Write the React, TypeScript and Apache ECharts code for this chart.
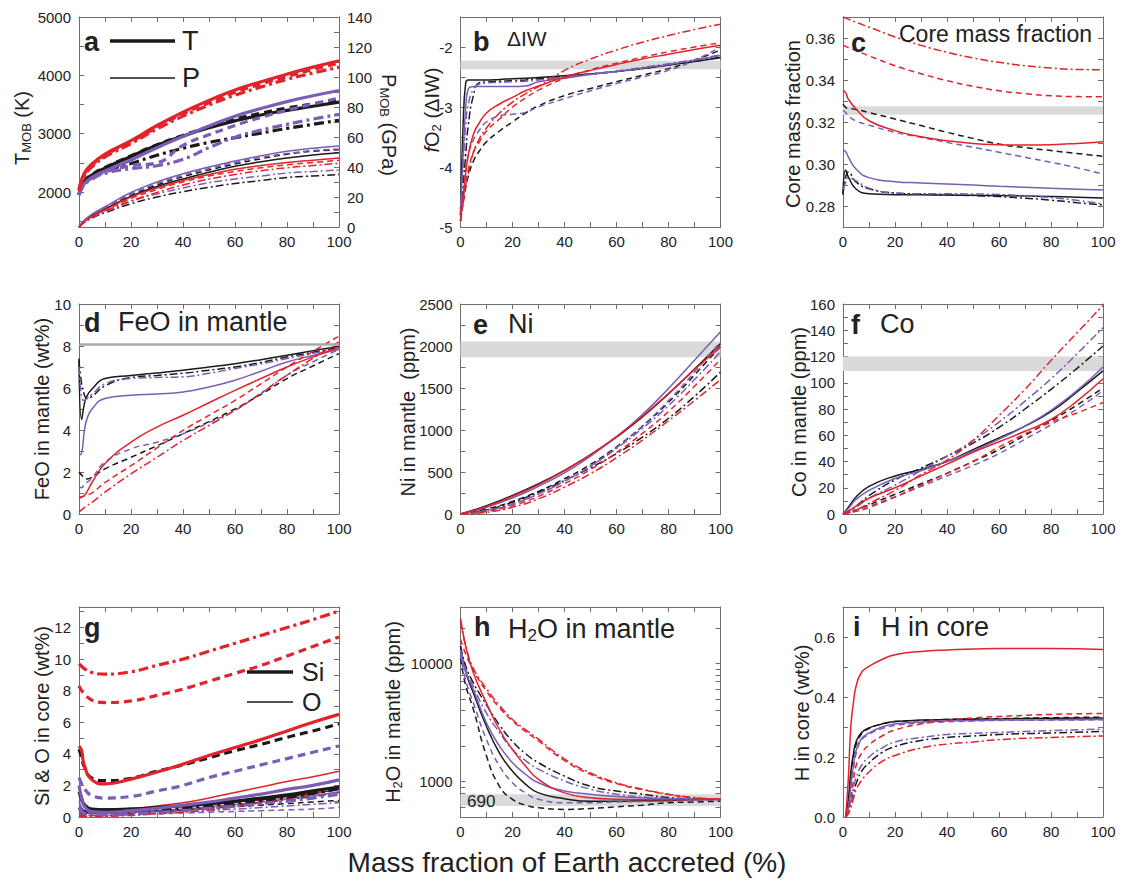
import React, { useEffect, useRef } from 'react';
import * as echarts from 'echarts';

const FONT = '"Liberation Sans", Arial, Helvetica, sans-serif';
const RED = '#e2232b';
const BLACK = '#1a1a1a';
const PURPLE = '#7b5db6';
const AXIS = '#6e6e6e';
const TXT = '#222222';
const BAND = '#dadada';

const RUNS = [
  { key: 'kS', color: BLACK, dash: 'solid' },
  { key: 'kD', color: BLACK, dash: 'dash' },
  { key: 'kDD', color: BLACK, dash: 'dashdot' },
  { key: 'pS', color: PURPLE, dash: 'solid' },
  { key: 'pD', color: PURPLE, dash: 'dash' },
  { key: 'pDD', color: PURPLE, dash: 'dashdot' },
  { key: 'rS', color: RED, dash: 'solid' },
  { key: 'rD', color: RED, dash: 'dash' },
  { key: 'rDD', color: RED, dash: 'dashdot' },
];

// ---------- panel a ----------
const X_A = [0, 2, 5, 10, 20, 30, 40, 50, 60, 70, 80, 90, 100];
const A_T: Record<string, number[]> = {
  kS: [1960, 2170, 2290, 2410, 2610, 2800, 2960, 3100, 3220, 3320, 3400, 3470, 3540],
  kD: [1960, 2180, 2300, 2420, 2620, 2810, 2970, 3120, 3250, 3350, 3440, 3510, 3580],
  kDD: [1950, 2150, 2270, 2370, 2490, 2630, 2750, 2850, 2930, 3010, 3090, 3160, 3230],
  pS: [1950, 2140, 2250, 2360, 2550, 2760, 2950, 3130, 3300, 3430, 3550, 3650, 3740],
  pD: [1950, 2130, 2240, 2340, 2450, 2500, 2800, 2980, 3140, 3280, 3400, 3510, 3610],
  pDD: [1950, 2120, 2220, 2320, 2400, 2450, 2560, 2760, 2940, 3060, 3160, 3250, 3330],
  rS: [2050, 2320, 2480, 2650, 2880, 3140, 3370, 3570, 3750, 3890, 4020, 4140, 4250],
  rD: [2040, 2300, 2460, 2630, 2860, 3110, 3340, 3530, 3710, 3850, 3980, 4100, 4210],
  rDD: [2020, 2270, 2430, 2600, 2830, 3080, 3300, 3490, 3660, 3800, 3930, 4040, 4140],
};
const A_P: Record<string, number[]> = {
  kS: [0, 4, 7.5, 12, 20.5, 27, 32, 36.5, 40.5, 43.5, 46, 48, 49.5],
  kD: [0, 4, 7.5, 12, 21, 28, 33.5, 38, 42, 45.5, 48.5, 50.5, 51.5],
  kDD: [0, 3, 6, 9.5, 15.5, 20, 23.5, 26.5, 29, 31, 33, 34, 35],
  pS: [0, 4.5, 8.5, 13.5, 23, 30, 35.5, 40, 44, 47.5, 50.5, 52.5, 54],
  pD: [0, 4, 8, 13, 22, 29, 34.5, 39, 43, 46.5, 49, 51, 52],
  pDD: [0, 3, 6.5, 10, 17, 22, 26, 29.5, 32, 34, 36, 37, 38],
  rS: [0, 3.5, 7, 11.5, 20, 26, 31, 35, 38.5, 41, 43, 44.5, 46],
  rD: [0, 3.5, 7, 11, 19, 25, 30, 34, 37, 39.5, 41.5, 43, 44.5],
  rDD: [0, 3, 6.5, 10.5, 17.5, 23, 28, 32, 35, 37.5, 39.5, 41, 42.5],
};

// ---------- panel b ----------
const X_B = [0, 1, 2, 3, 5, 7, 10, 15, 20, 25, 30, 40, 50, 60, 70, 80, 90, 100];
const B_FO2: Record<string, number[]> = {
  kS: [-4.8, -3.3, -2.6, -2.55, -2.55, -2.55, -2.55, -2.54, -2.53, -2.52, -2.51, -2.48, -2.45, -2.41, -2.36, -2.3, -2.24, -2.18],
  kD: [-4.9, -4.6, -4.35, -4.15, -3.9, -3.75, -3.58, -3.4, -3.25, -3.1, -2.98, -2.81, -2.69, -2.58, -2.47, -2.36, -2.22, -2.05],
  kDD: [-4.8, -4.3, -3.8, -3.3, -2.8, -2.6, -2.58, -2.57, -2.56, -2.55, -2.53, -2.49, -2.45, -2.41, -2.36, -2.3, -2.24, -2.17],
  pS: [-4.7, -3.8, -3.0, -2.7, -2.66, -2.66, -2.66, -2.66, -2.66, -2.65, -2.58, -2.52, -2.46, -2.41, -2.35, -2.29, -2.22, -2.14],
  pD: [-4.9, -4.5, -4.1, -3.8, -3.55, -3.4, -3.25, -3.15, -3.12, -3.09, -3.0, -2.86, -2.73, -2.61, -2.5, -2.39, -2.22, -2.0],
  pDD: [-4.8, -4.0, -3.3, -2.95, -2.7, -2.62, -2.6, -2.59, -2.58, -2.57, -2.55, -2.5, -2.45, -2.4, -2.34, -2.28, -2.21, -2.13],
  rS: [-4.8, -4.5, -4.1, -3.8, -3.45, -3.28, -3.1, -2.95, -2.84, -2.73, -2.65, -2.5, -2.39, -2.29, -2.2, -2.12, -2.04, -1.97],
  rD: [-4.9, -4.6, -4.3, -4.05, -3.75, -3.6, -3.4, -3.2, -3.0, -2.85, -2.72, -2.52, -2.38, -2.27, -2.17, -2.08, -2.0, -1.93],
  rDD: [-4.9, -4.6, -4.3, -4.1, -3.75, -3.55, -3.35, -3.1, -2.92, -2.78, -2.66, -2.39, -2.2, -2.05, -1.92, -1.81, -1.71, -1.62],
};
const B_BAND = [-2.37, -2.23];

// ---------- panel c ----------
const X_C = [0, 1, 2, 5, 10, 20, 30, 40, 50, 60, 70, 80, 90, 100];
const C_CMF: Record<string, number[]> = {
  kS: [0.2855, 0.2972, 0.294, 0.2881, 0.2858, 0.2854, 0.2853, 0.2852, 0.2851, 0.285, 0.2848, 0.2845, 0.2842, 0.2838],
  kD: [0.3285, 0.327, 0.3265, 0.326, 0.3245, 0.3214, 0.3183, 0.3151, 0.3122, 0.3095, 0.3078, 0.3064, 0.305, 0.3037],
  kDD: [0.2855, 0.2935, 0.2962, 0.2915, 0.2882, 0.2862, 0.2857, 0.2853, 0.285, 0.2845, 0.2837, 0.2828, 0.2816, 0.2805],
  pS: [0.3065, 0.306, 0.3035, 0.2976, 0.2935, 0.2916, 0.291, 0.2905, 0.29, 0.2894, 0.2889, 0.2884, 0.288, 0.2876],
  pD: [0.3255, 0.3245, 0.323, 0.3205, 0.3185, 0.3151, 0.3127, 0.3103, 0.308, 0.3056, 0.3032, 0.3008, 0.2982, 0.2952],
  pDD: [0.288, 0.291, 0.2935, 0.292, 0.2885, 0.2862, 0.2858, 0.2858, 0.2857, 0.2855, 0.2848, 0.284, 0.2827, 0.281],
  rS: [0.335, 0.334, 0.331, 0.3262, 0.3206, 0.3159, 0.313, 0.3111, 0.3098, 0.3092, 0.309, 0.3092, 0.3098, 0.3106],
  rD: [0.3565, 0.356, 0.3555, 0.354, 0.3515, 0.3468, 0.343, 0.3397, 0.337, 0.3349, 0.3335, 0.3325, 0.3321, 0.332],
  rDD: [0.37, 0.3695, 0.369, 0.3675, 0.3652, 0.3605, 0.3565, 0.3532, 0.3505, 0.3484, 0.3468, 0.3457, 0.345, 0.3449],
};
const C_BAND = [0.3235, 0.3275];

// ---------- panel d ----------
const X_D = [0, 1, 2, 3, 5, 10, 20, 30, 40, 50, 60, 70, 80, 90, 100];
const D_FEO: Record<string, number[]> = {
  kS: [7.4, 4.5, 5.2, 5.6, 5.95, 6.45, 6.6, 6.72, 6.85, 7.0, 7.16, 7.35, 7.56, 7.78, 7.99],
  kD: [2.0, 1.85, 1.75, 1.67, 1.75, 2.15, 2.7, 3.25, 3.82, 4.4, 5.0, 5.7, 6.45, 7.05, 7.64],
  kDD: [7.3, 6.2, 5.7, 5.5, 5.6, 6.1, 6.5, 6.6, 6.7, 6.85, 7.0, 7.22, 7.48, 7.7, 7.93],
  pS: [2.8, 2.9, 3.9, 4.5, 5.0, 5.5, 5.65, 5.72, 5.81, 6.05, 6.37, 6.8, 7.24, 7.55, 7.83],
  pD: [1.3, 1.25, 1.4, 1.5, 1.7, 2.47, 3.1, 3.42, 3.82, 4.35, 4.94, 5.75, 6.61, 7.25, 7.83],
  pDD: [7.0, 5.6, 5.4, 5.5, 5.7, 6.2, 6.45, 6.5, 6.53, 6.7, 6.93, 7.15, 7.4, 7.65, 7.88],
  rS: [0.8, 0.82, 0.88, 1.05, 1.5, 2.4, 3.42, 4.14, 4.7, 5.3, 5.89, 6.45, 7.0, 7.48, 7.93],
  rD: [0.75, 0.8, 0.85, 0.9, 1.0, 1.5, 2.3, 3.15, 3.98, 4.7, 5.41, 6.2, 7.0, 7.75, 8.47],
  rDD: [0.1, 0.2, 0.3, 0.4, 0.55, 1.04, 1.91, 2.7, 3.5, 4.22, 4.94, 5.75, 6.61, 7.42, 8.2],
};
const D_LINE = 8.1;

// ---------- panel e ----------
const X_E = [0, 10, 20, 30, 40, 50, 60, 70, 80, 90, 100];
const E_NI: Record<string, number[]> = {
  kS: [0, 100, 220, 360, 520, 705, 915, 1155, 1430, 1725, 2030],
  kD: [0, 60, 150, 270, 420, 590, 800, 1045, 1330, 1655, 2000],
  kDD: [0, 50, 140, 260, 400, 550, 720, 915, 1140, 1400, 1690],
  pS: [0, 80, 190, 330, 490, 690, 920, 1185, 1495, 1830, 2170],
  pD: [0, 40, 120, 240, 390, 570, 790, 1050, 1350, 1690, 2050],
  pDD: [0, 40, 120, 240, 390, 570, 780, 1020, 1290, 1600, 1930],
  rS: [0, 90, 210, 350, 515, 705, 920, 1165, 1435, 1720, 1990],
  rD: [0, 30, 100, 210, 360, 530, 730, 960, 1220, 1520, 1840],
  rDD: [0, 20, 80, 180, 320, 480, 670, 880, 1110, 1350, 1600],
};
const E_BAND = [1865, 2055];

// ---------- panel f ----------
const X_F = [0, 2, 5, 10, 20, 30, 40, 50, 60, 70, 80, 90, 100];
const F_CO: Record<string, number[]> = {
  kS: [0, 5, 13, 21, 29, 34, 40, 49, 58, 67, 78, 93, 109],
  kD: [0, 1, 3, 7, 15, 23, 31, 40, 49, 60, 71, 83, 96],
  kDD: [0, 2, 6, 14, 26, 35, 44, 54, 66, 80, 95, 111, 128],
  pS: [0, 4, 11, 18, 27, 33, 40, 48, 57, 67, 79, 94, 112],
  pD: [0, 1, 3, 6, 13, 21, 29, 37, 46, 57, 68, 80, 94],
  pDD: [0, 2, 5, 12, 22, 33, 44, 56, 70, 86, 103, 122, 142],
  rS: [0, 2, 6, 12, 20, 29, 38, 47, 55, 63, 72, 86, 103],
  rD: [0, 1, 2, 5, 13, 22, 31, 40, 51, 61, 70, 77, 85],
  rDD: [0, 1, 3, 8, 18, 30, 41, 56, 75, 95, 117, 138, 159],
};
const F_BAND = [109, 120];

// ---------- panel g ----------
const X_G = [0, 1, 2, 5, 10, 20, 30, 40, 50, 60, 70, 80, 90, 100];
const G_SI: Record<string, number[]> = {
  kS: [1.6, 1.2, 0.8, 0.5, 0.45, 0.5, 0.6, 0.7, 0.85, 1.0, 1.2, 1.4, 1.65, 1.9],
  kD: [4.3, 3.8, 3.2, 2.45, 2.3, 2.45, 2.9, 3.3, 3.75, 4.2, 4.6, 5.05, 5.45, 5.9],
  kDD: [0.6, 0.45, 0.35, 0.3, 0.3, 0.35, 0.45, 0.55, 0.7, 0.85, 1.05, 1.25, 1.5, 1.8],
  pS: [2.0, 1.2, 0.7, 0.35, 0.3, 0.4, 0.55, 0.75, 0.95, 1.2, 1.45, 1.75, 2.0, 2.35],
  pD: [2.5, 2.1, 1.8, 1.35, 1.2, 1.3, 1.65, 2.0, 2.5, 2.9, 3.3, 3.7, 4.1, 4.5],
  pDD: [0.6, 0.4, 0.25, 0.2, 0.15, 0.2, 0.3, 0.4, 0.55, 0.7, 0.85, 1.0, 1.2, 1.45],
  rS: [4.5, 4.2, 3.3, 2.35, 2.1, 2.4, 2.85, 3.35, 3.9, 4.4, 4.9, 5.45, 6.0, 6.5],
  rD: [8.3, 8.0, 7.8, 7.4, 7.25, 7.35, 7.7, 8.1, 8.6, 9.1, 9.6, 10.2, 10.8, 11.4],
  rDD: [9.7, 9.55, 9.4, 9.15, 9.05, 9.2, 9.6, 10.0, 10.5, 11.0, 11.5, 12.0, 12.5, 13.05],
};
const G_O: Record<string, number[]> = {
  kS: [1.4, 1.0, 0.7, 0.5, 0.5, 0.55, 0.6, 0.7, 0.8, 0.95, 1.1, 1.3, 1.5, 1.75],
  kD: [0.5, 0.4, 0.3, 0.25, 0.25, 0.3, 0.35, 0.45, 0.55, 0.65, 0.75, 0.85, 0.95, 1.05],
  kDD: [0.3, 0.25, 0.2, 0.2, 0.2, 0.25, 0.35, 0.45, 0.6, 0.75, 0.9, 1.1, 1.3, 1.55],
  pS: [1.0, 0.6, 0.4, 0.25, 0.25, 0.3, 0.4, 0.5, 0.65, 0.8, 0.95, 1.15, 1.35, 1.6],
  pD: [0.3, 0.2, 0.15, 0.1, 0.1, 0.15, 0.2, 0.25, 0.3, 0.35, 0.4, 0.45, 0.5, 0.6],
  pDD: [0.2, 0.15, 0.12, 0.1, 0.1, 0.15, 0.2, 0.3, 0.4, 0.5, 0.6, 0.7, 0.8, 0.9],
  rS: [0.2, 0.2, 0.22, 0.25, 0.3, 0.5, 0.7, 0.9, 1.2, 1.55, 1.9, 2.25, 2.55, 2.9],
  rD: [0.1, 0.1, 0.1, 0.1, 0.1, 0.15, 0.25, 0.4, 0.55, 0.75, 1.0, 1.3, 1.6, 1.95],
  rDD: [0.05, 0.05, 0.05, 0.05, 0.05, 0.1, 0.2, 0.3, 0.45, 0.65, 0.9, 1.15, 1.45, 1.8],
};

// ---------- panel h ----------
const X_H = [0, 2, 5, 10, 15, 20, 25, 30, 40, 50, 60, 70, 80, 90, 100];
const H_H2O: Record<string, number[]> = {
  kS: [14000, 8500, 5580, 2920, 1740, 1220, 950, 800, 715, 680, 680, 685, 690, 700, 706],
  kD: [11000, 6500, 4050, 1640, 910, 706, 630, 600, 580, 590, 610, 630, 660, 670, 680],
  kDD: [14000, 9500, 6800, 4450, 3000, 2180, 1720, 1440, 1110, 910, 830, 780, 730, 710, 706],
  pS: [13000, 8500, 5960, 3120, 1990, 1440, 1150, 975, 830, 780, 745, 725, 715, 710, 706],
  pD: [12000, 7200, 4600, 2260, 1350, 975, 800, 706, 660, 660, 670, 675, 680, 690, 700],
  pDD: [13000, 9000, 6300, 3790, 2600, 1860, 1500, 1270, 1010, 860, 780, 740, 715, 705, 700],
  rS: [24000, 14000, 8240, 4600, 2740, 1860, 1350, 1040, 800, 727, 706, 700, 700, 702, 706],
  rD: [16000, 12000, 8700, 5800, 4200, 3250, 2650, 2200, 1500, 1150, 960, 850, 775, 725, 700],
  rDD: [23000, 14000, 9000, 6100, 4400, 3350, 2750, 2280, 1550, 1180, 975, 860, 780, 730, 706],
};
const H_BAND = [620, 780];

// ---------- panel i ----------
const X_I = [1, 2, 3, 4, 5, 7, 10, 15, 20, 30, 40, 50, 60, 80, 100];
const I_H: Record<string, number[]> = {
  kS: [0, 0.05, 0.15, 0.21, 0.25, 0.28, 0.297, 0.31, 0.318, 0.323, 0.325, 0.326, 0.327, 0.329, 0.33],
  kD: [0, 0.05, 0.14, 0.2, 0.24, 0.275, 0.295, 0.31, 0.318, 0.322, 0.325, 0.327, 0.328, 0.331, 0.333],
  kDD: [0, 0.02, 0.05, 0.08, 0.11, 0.15, 0.18, 0.215, 0.235, 0.255, 0.265, 0.27, 0.275, 0.28, 0.285],
  pS: [0, 0.03, 0.1, 0.17, 0.22, 0.26, 0.28, 0.3, 0.31, 0.317, 0.32, 0.322, 0.323, 0.324, 0.325],
  pD: [0, 0.03, 0.1, 0.16, 0.21, 0.255, 0.275, 0.295, 0.305, 0.313, 0.317, 0.32, 0.322, 0.323, 0.324],
  pDD: [0, 0.02, 0.05, 0.1, 0.13, 0.17, 0.2, 0.23, 0.25, 0.265, 0.275, 0.279, 0.282, 0.288, 0.293],
  rS: [0, 0.12, 0.3, 0.38, 0.435, 0.48, 0.502, 0.525, 0.541, 0.552, 0.557, 0.56, 0.562, 0.562, 0.558],
  rD: [0, 0.02, 0.06, 0.12, 0.17, 0.21, 0.24, 0.27, 0.29, 0.31, 0.322, 0.33, 0.335, 0.342, 0.345],
  rDD: [0, 0.01, 0.03, 0.06, 0.09, 0.12, 0.15, 0.185, 0.205, 0.23, 0.243, 0.25, 0.258, 0.265, 0.27],
};

// tick / label values
const A_T_TICKS = [1500, 2000, 2500, 3000, 3500, 4000, 4500, 5000];
const A_T_LABELS = [2000, 3000, 4000, 5000];
const B_TICKS = [-5, -4.5, -4, -3.5, -3, -2.5, -2, -1.5];
const B_LABELS = [-5, -4, -3, -2];
const C_TICKS = [0.27, 0.28, 0.29, 0.3, 0.31, 0.32, 0.33, 0.34, 0.35, 0.36, 0.37];
const C_LABELS = [0.28, 0.3, 0.32, 0.34, 0.36];
const G_TICKS = [0, 1, 2, 3, 4, 5, 6, 7, 8, 9, 10, 11, 12, 13];
const G_LABELS = [0, 2, 4, 6, 8, 10, 12];
const H_TICKS = [500, 600, 700, 800, 900, 1000, 2000, 3000, 4000, 5000, 6000, 7000, 8000, 9000, 10000, 20000, 30000];
const H_LABELS = [1000, 10000];
const I_TICKS = [0, 0.1, 0.2, 0.3, 0.4, 0.5, 0.6, 0.7];
const I_LABELS = [0, 0.2, 0.4, 0.6];

// layout
const COL_LEFT = [79, 460.5, 843];
const ROW_TOP = [17, 304, 607];
const PW = 260;
const PH = 210;

type YSpec = {
  min: number; max: number; interval?: number; log?: boolean;
  ticks?: number[]; labels?: number[]; fmt?: (v: number) => string;
};

const Y_SPECS: YSpec[] = [
  { min: 1400, max: 5000, ticks: A_T_TICKS, labels: A_T_LABELS },
  { min: -5, max: -1.5, ticks: B_TICKS, labels: B_LABELS },
  { min: 0.27, max: 0.37, ticks: C_TICKS, labels: C_LABELS, fmt: (v) => v.toFixed(2) },
  { min: 0, max: 10, interval: 2 },
  { min: 0, max: 2500, interval: 500 },
  { min: 0, max: 160, interval: 20 },
  { min: 0, max: 13.3, ticks: G_TICKS, labels: G_LABELS },
  { min: 500, max: 30000, log: true, ticks: H_TICKS, labels: H_LABELS, fmt: (v) => String(Math.round(v)) },
  { min: 0, max: 0.7, ticks: I_TICKS, labels: I_LABELS, fmt: (v) => v.toFixed(1) },
];

function dashOf(dash: string, thick: boolean): any {
  if (dash === 'dash') return thick ? [8, 5] : [6, 4];
  if (dash === 'dashdot') return thick ? [10, 4, 3, 4] : [8, 3, 2, 3];
  return 'solid';
}

function lineSeries(gi: number, yIdx: number, xs: number[], data: Record<string, number[]>, thick: boolean) {
  return RUNS.map((run) => ({
    type: 'line',
    xAxisIndex: gi * 2,
    yAxisIndex: yIdx,
    data: xs.map((x, i) => [x, data[run.key][i]]),
    symbol: 'none',
    showSymbol: false,
    smooth: 0.5,
    silent: true,
    clip: true,
    z: 3,
    lineStyle: { color: run.color, width: thick ? 3.2 : 1.5, type: dashOf(run.dash, thick) },
  }));
}

function bandSeries(gi: number, lo: number, hi: number) {
  return {
    type: 'line',
    xAxisIndex: gi * 2,
    yAxisIndex: gi * 2,
    data: [],
    silent: true,
    z: 1,
    markArea: { silent: true, itemStyle: { color: BAND }, label: { show: false }, data: [[{ yAxis: lo }, { yAxis: hi }]] },
  };
}

const tickStyle = { show: true, inside: true, length: 5, lineStyle: { color: AXIS, width: 1 } };
const minorStyle = { show: true, splitNumber: 2, length: 5, lineStyle: { color: AXIS, width: 1 } };
const axisLineStyle = { show: true, onZero: false, lineStyle: { color: AXIS, width: 1 } };
const labelBase = { color: TXT, fontSize: 15, fontFamily: FONT };

function buildYAxis(gi: number, spec: YSpec, position: 'left' | 'right', showLabels: boolean) {
  const ax: any = {
    type: spec.log ? 'log' : 'value',
    gridIndex: gi,
    position,
    min: spec.min,
    max: spec.max,
    splitLine: { show: false },
    axisLine: axisLineStyle,
    axisTick: { ...tickStyle },
    axisLabel: {
      ...labelBase,
      show: showLabels,
      margin: 8,
      formatter: spec.fmt || ((v: number) => String(v)),
    },
  };
  if (spec.log) ax.logBase = 10;
  if (spec.interval !== undefined) {
    ax.interval = spec.interval;
    ax.minorTick = minorStyle;
  }
  if (spec.ticks) ax.axisTick.customValues = spec.ticks;
  if (spec.labels) ax.axisLabel.customValues = spec.labels;
  return ax;
}

function buildXAxes(gi: number) {
  const base: any = {
    type: 'value', gridIndex: gi, min: 0, max: 100, interval: 20,
    splitLine: { show: false }, axisLine: axisLineStyle, axisTick: tickStyle, minorTick: minorStyle,
  };
  return [
    { ...base, position: 'bottom', axisLabel: { ...labelBase, margin: 7, formatter: (v: number) => String(v) } },
    { ...base, position: 'top', axisLabel: { show: false } },
  ];
}

function txt(text: string, x: number, y: number, size: number, extra: any = {}) {
  return {
    type: 'text', x, y, silent: true, z: 10,
    rotation: extra.rotation || 0,
    style: {
      text, fill: TXT, fontSize: size, fontFamily: FONT,
      fontWeight: extra.bold ? 'bold' : 'normal',
      align: extra.align || 'left', verticalAlign: 'middle',
      rich: extra.rich,
    },
  };
}

function legLine(x1: number, x2: number, y: number, w: number) {
  return { type: 'line', silent: true, z: 10, shape: { x1, y1: y, x2, y2: y }, style: { stroke: BLACK, lineWidth: w } };
}

function richTitle(size: number, sub: number, pad: number) {
  return {
    m: { fontSize: size, fontFamily: FONT, fill: TXT },
    s: { fontSize: sub, fontFamily: FONT, fill: TXT, padding: [pad, 0, 0, 0] },
    i: { fontSize: size, fontFamily: FONT, fill: TXT, fontStyle: 'italic' },
  };
}

function buildOption() {
  const grid: any[] = [];
  const xAxis: any[] = [];
  const yAxis: any[] = [];
  for (let gi = 0; gi < 9; gi++) {
    const col = gi % 3;
    const row = Math.floor(gi / 3);
    grid.push({ left: COL_LEFT[col], top: ROW_TOP[row], width: PW, height: PH, containLabel: false });
    xAxis.push(...buildXAxes(gi));
    yAxis.push(buildYAxis(gi, Y_SPECS[gi], 'left', true));
    if (gi === 0) {
      yAxis.push({
        type: 'value', gridIndex: 0, position: 'right', min: 0, max: 140, interval: 20,
        splitLine: { show: false }, axisLine: axisLineStyle, axisTick: tickStyle, minorTick: minorStyle,
        axisLabel: { ...labelBase, margin: 8, formatter: (v: number) => String(v) },
      });
    } else {
      yAxis.push(buildYAxis(gi, Y_SPECS[gi], 'right', false));
    }
  }

  const series: any[] = [
    bandSeries(1, B_BAND[0], B_BAND[1]),
    bandSeries(2, C_BAND[0], C_BAND[1]),
    bandSeries(4, E_BAND[0], E_BAND[1]),
    bandSeries(5, F_BAND[0], F_BAND[1]),
    bandSeries(7, H_BAND[0], H_BAND[1]),
    {
      type: 'line', xAxisIndex: 6, yAxisIndex: 6, data: [], silent: true, z: 1,
      markLine: { silent: true, symbol: 'none', label: { show: false }, lineStyle: { color: '#a9a9a9', width: 2.5, type: 'solid' }, data: [{ yAxis: D_LINE }] },
    },
    ...lineSeries(0, 1, X_A, A_P, false),
    ...lineSeries(0, 0, X_A, A_T, true),
    ...lineSeries(1, 2, X_B, B_FO2, false),
    ...lineSeries(2, 4, X_C, C_CMF, false),
    ...lineSeries(3, 6, X_D, D_FEO, false),
    ...lineSeries(4, 8, X_E, E_NI, false),
    ...lineSeries(5, 10, X_F, F_CO, false),
    ...lineSeries(6, 12, X_G, G_O, false),
    ...lineSeries(6, 12, X_G, G_SI, true),
    ...lineSeries(7, 14, X_H, H_H2O, false),
    ...lineSeries(8, 16, X_I, I_H, false),
  ];

  const R20 = richTitle(20, 13, 9);
  const R27 = richTitle(27, 17, 12);
  const graphic: any[] = [
    // panel letters & titles
    txt('a', 84, 42, 27, { bold: true }),
    legLine(110, 175, 41, 3.5), txt('T', 182, 41, 27),
    legLine(110, 175, 78, 1.4), txt('P', 182, 78, 27),
    txt('b', 473, 42, 27, { bold: true }),
    txt('ΔIW', 507, 38, 21),
    txt('c', 851, 43, 27, { bold: true }),
    txt('Core mass fraction', 899, 34, 23),
    txt('d', 84, 323, 27, { bold: true }),
    txt('FeO in mantle', 118, 322, 27),
    txt('e', 473, 325, 27, { bold: true }),
    txt('Ni', 508, 324, 27),
    txt('f', 851, 325, 27, { bold: true }),
    txt('Co', 880, 324, 27),
    txt('g', 84, 628, 27, { bold: true }),
    legLine(247, 293, 672, 3.5), txt('Si', 302, 672, 25),
    legLine(247, 293, 702, 1.4), txt('O', 302, 702, 25),
    txt('h', 474, 627, 27, { bold: true }),
    txt('{m|H}{s|2}{m|O in mantle}', 508, 629, 27, { rich: R27 }),
    txt('i', 853, 627, 27, { bold: true }),
    txt('H in core', 881, 627, 27),
    txt('690', 467, 801, 17),
    // axis titles
    txt('{m|T}{s|MOB}{m| (K)}', 22, 128, 20, { rich: R20, align: 'center', rotation: Math.PI / 2 }),
    txt('{m|P}{s|MOB}{m| (GPa)}', 389, 125, 20, { rich: R20, align: 'center', rotation: -Math.PI / 2 }),
    txt('{i|f}{m|O}{s|2}{m| (ΔIW)}', 432, 110, 20, { rich: R20, align: 'center', rotation: Math.PI / 2 }),
    txt('Core mass fraction', 793, 124, 20, { align: 'center', rotation: Math.PI / 2 }),
    txt('FeO in mantle (wt%)', 42, 409, 20, { align: 'center', rotation: Math.PI / 2 }),
    txt('Ni in mantle  (ppm)', 408, 412, 20, { align: 'center', rotation: Math.PI / 2 }),
    txt('Co in mantle (ppm)', 799, 412, 20, { align: 'center', rotation: Math.PI / 2 }),
    txt('Si & O in core (wt%)', 42, 716, 20, { align: 'center', rotation: Math.PI / 2 }),
    txt('{m|H}{s|2}{m|O in mantle (ppm)}', 393, 712, 20, { rich: R20, align: 'center', rotation: Math.PI / 2 }),
    txt('H in core (wt%)', 802, 713, 20, { align: 'center', rotation: Math.PI / 2 }),
    txt('Mass fraction of Earth accreted (%)', 567, 862, 28, { align: 'center' }),
  ];

  return {
    animation: false,
    backgroundColor: '#ffffff',
    textStyle: { fontFamily: FONT },
    grid, xAxis, yAxis, series, graphic,
  };
}

export default function App() {
  const ref = useRef<HTMLDivElement>(null);
  useEffect(() => {
    if (!ref.current) return;
    const chart = echarts.init(ref.current, undefined, { renderer: 'svg' });
    chart.setOption(buildOption() as any);
    return () => chart.dispose();
  }, []);
  return <div ref={ref} style={{ position: 'fixed', left: 0, top: 0, width: 1123, height: 888, background: '#fff' }} />;
}
